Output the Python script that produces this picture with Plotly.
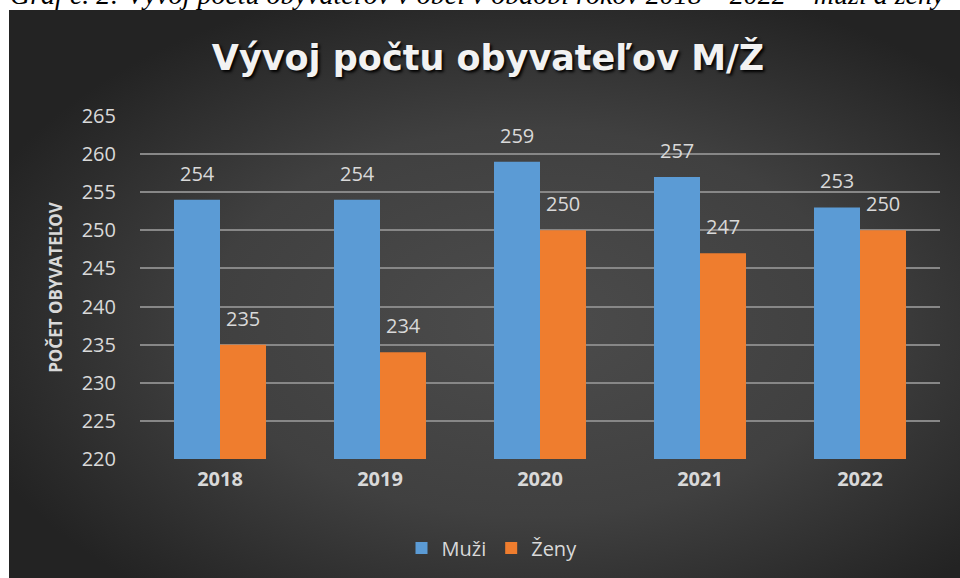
import base64
import plotly.graph_objects as go

# ---- data ----
years = ["2018", "2019", "2020", "2021", "2022"]
muzi = [254, 254, 259, 257, 253]
zeny = [235, 234, 250, 247, 250]
y_ticks = [220, 225, 230, 235, 240, 245, 250, 255, 260, 265]
series_names = ["Muži", "Ženy"]
title_text = "Vývoj počtu obyvateľov M/Ž"
y_title = "POČET OBYVATEĽOV"
caption = "Graf č. 2: Vývoj počtu obyvateľov v obci v období rokov 2018 – 2022 – muži a ženy"

# ---- layout constants ----
W, H = 960, 578
plot_l, plot_r, plot_t, plot_b = 140, 940, 116, 459
bargap = 0.425
bar_px = (plot_r - plot_l) / len(years) * (1 - bargap) / 2

TXT = "#d9d9d9"
BLUE = "#5b9bd5"
ORANGE = "#ef7d2e"

# radial gradient background as inline svg image
bg_w, bg_h = W - 9, H - 10
svg = (
    f"<svg xmlns='http://www.w3.org/2000/svg' width='{bg_w}' height='{bg_h}'>"
    "<defs><radialGradient id='g' cx='0.55' cy='0.55' r='0.62'>"
    "<stop offset='0' stop-color='#4c4c4c'/>"
    "<stop offset='0.55' stop-color='#404040'/>"
    "<stop offset='1' stop-color='#232323'/>"
    "</radialGradient></defs>"
    f"<rect width='{bg_w}' height='{bg_h}' fill='url(#g)'/></svg>"
)
bg_uri = "data:image/svg+xml;base64," + base64.b64encode(svg.encode()).decode()

fig = go.Figure()
fig.add_trace(go.Bar(x=years, y=muzi, name=series_names[0], marker=dict(color=BLUE, line=dict(width=0))))
fig.add_trace(go.Bar(x=years, y=zeny, name=series_names[1], marker=dict(color=ORANGE, line=dict(width=0))))

annotations = []
for vals, shift in ((muzi, -bar_px / 2), (zeny, bar_px / 2)):
    for i, v in enumerate(vals):
        annotations.append(dict(
            x=i, y=v, xref="x", yref="y", text=str(v), showarrow=False,
            xshift=shift, yshift=11, yanchor="bottom", xanchor="center",
            font=dict(family="Open Sans", size=20, color=TXT),
        ))

annotations.append(dict(
    x=8 / W, y=1, xref="paper", yref="paper", xanchor="left", yanchor="bottom",
    yshift=-12, text=caption, showarrow=False,
    font=dict(family="Liberation Serif", size=28, color="#000000", style="italic"),
))

fig.update_layout(
    width=W, height=H,
    margin=dict(l=0, r=0, t=0, b=0, pad=0, autoexpand=False),
    paper_bgcolor="#ffffff",
    plot_bgcolor="rgba(0,0,0,0)",
    barmode="group", bargap=bargap, bargroupgap=0,
    images=[dict(source=bg_uri, xref="paper", yref="paper", x=9 / W, y=1 - 10 / H,
                 sizex=bg_w / W, sizey=bg_h / H, xanchor="left", yanchor="top",
                 sizing="stretch", layer="below")],
    title=dict(text=title_text, x=488 / W, y=1 - 58 / H, xanchor="center", yanchor="middle",
               xref="paper", yref="paper", automargin=False,
               font=dict(family="DejaVu Sans", size=35, weight="bold", color="#f2f2f2",
                         shadow="2px 2px 3px #000000")),
    xaxis=dict(type="category", range=[-0.5, len(years) - 0.5],
               domain=[plot_l / W, plot_r / W], showgrid=False, showline=False,
               zeroline=False, ticks="", ticklabelstandoff=6, automargin=False,
               tickfont=dict(family="Open Sans", size=20, weight="bold", color=TXT)),
    yaxis=dict(range=[220, 265], domain=[1 - plot_b / H, 1 - plot_t / H], tickvals=y_ticks,
               showgrid=True, gridcolor="#878787", gridwidth=2, zeroline=False, showline=False,
               ticks="", ticklabelstandoff=23, automargin=False,
               tickfont=dict(family="Open Sans", size=20, color=TXT),
               title=dict(text=y_title, standoff=14,
                          font=dict(family="Open Sans", size=17, weight="bold", color=TXT))),
    legend=dict(orientation="h", x=492 / W, y=1 - 548 / H, xanchor="center", yanchor="middle",
                bgcolor="rgba(0,0,0,0)", font=dict(family="Open Sans", size=20, color=TXT),
                itemwidth=30),
    annotations=annotations,
    showlegend=True,
)

fig.write_html("out.html", config={"displayModeBar": False},
               post_script="document.body.style.margin='0';")
